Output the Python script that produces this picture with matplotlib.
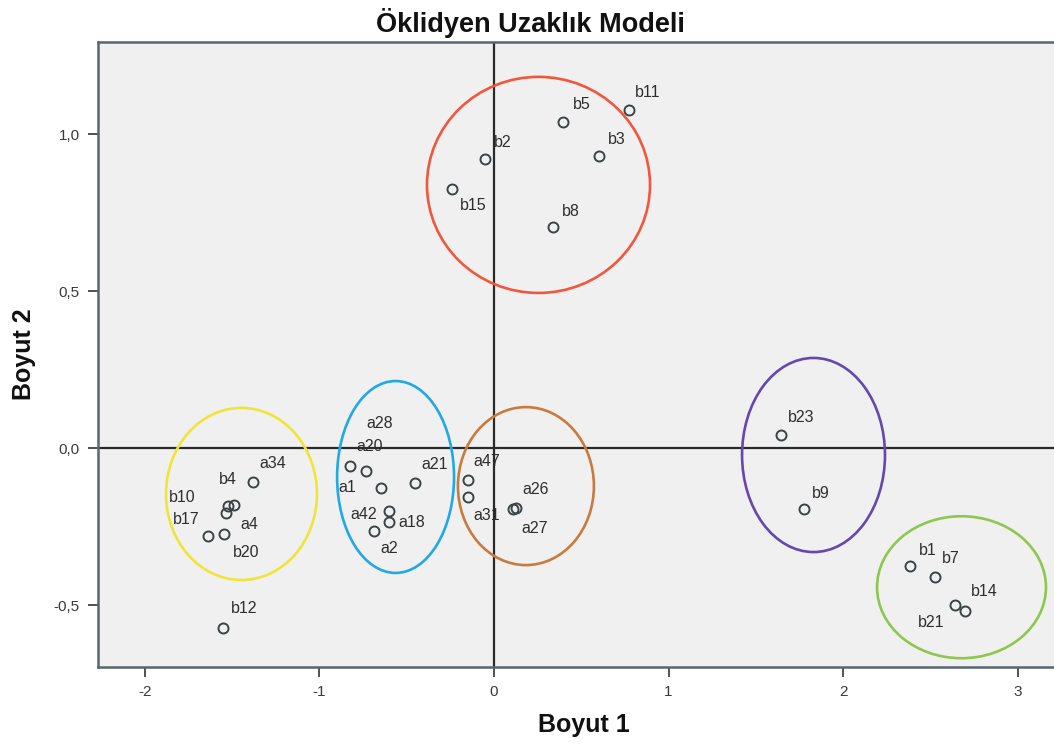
import matplotlib
matplotlib.use('Agg')
import matplotlib.pyplot as plt
from matplotlib.patches import Ellipse
from matplotlib.ticker import FuncFormatter

plt.rcParams['font.family'] = ['Liberation Sans', 'DejaVu Sans']
plt.rcParams['axes.unicode_minus'] = False

# MDS coordinates (Boyut 1, Boyut 2)
labels = ['b11', 'b5', 'b3', 'b2', 'b15', 'b8',
          'a34', 'b4', 'b10', 'a4', 'b17', 'b20', 'b12',
          'a20', 'a28', 'a1', 'a21', 'a42', 'a18', 'a2',
          'a47', 'a31', 'a27', 'a26',
          'b23', 'b9',
          'b1', 'b7', 'b21', 'b14']
dim1 = [0.774, 0.395, 0.602, -0.052, -0.241, 0.338,
        -1.381, -1.490, -1.524, -1.536, -1.639, -1.547, -1.553,
        -0.825, -0.734, -0.648, -0.453, -0.602, -0.602, -0.688,
        -0.149, -0.149, 0.109, 0.126,
        1.645, 1.777,
        2.384, 2.527, 2.642, 2.699]
dim2 = [1.076, 1.038, 0.930, 0.920, 0.825, 0.704,
        -0.108, -0.182, -0.185, -0.207, -0.280, -0.274, -0.573,
        -0.057, -0.073, -0.127, -0.111, -0.201, -0.236, -0.264,
        -0.102, -0.156, -0.194, -0.191,
        0.041, -0.194,
        -0.376, -0.411, -0.500, -0.519]

# cluster ellipses drawn by hand on the original: centre x, centre y, width, height
groups = ['red', 'yellow', 'blue', 'orange', 'purple', 'green']
grp_cx = [0.255, -1.447, -0.564, 0.183, 1.831, 2.679]
grp_cy = [0.838, -0.146, -0.092, -0.121, -0.022, -0.443]
grp_w = [1.278, 0.865, 0.670, 0.779, 0.819, 0.968]
grp_h = [0.688, 0.548, 0.611, 0.503, 0.618, 0.452]

grp_colors = {'red': '#f0573c', 'yellow': '#efe53a', 'blue': '#22a8e4',
              'orange': '#c97b3e', 'purple': '#6448b0', 'green': '#8cc84e'}

# label offsets in pixels (dx right, dy down), from the picture
lab_off = {
    'b11': (19, -18), 'b5': (19, -18), 'b3': (18, -17), 'b2': (18, -17),
    'b15': (21, 17), 'b8': (18, -15),
    'a34': (20, -19), 'b4': (-6, -26), 'b10': (-46, -9), 'a4': (23, 11),
    'b17': (-22, -17), 'b20': (22, 18), 'b12': (21, -20),
    'a20': (20, -19), 'a28': (14, -48), 'a1': (-34, 0), 'a21': (20, -18),
    'a42': (-25, 3), 'a18': (23, 0), 'a2': (15, 17),
    'a47': (19, -19), 'a31': (19, 18), 'a27': (22, 19), 'a26': (20, -19),
    'b23': (20, -18), 'b9': (17, -16),
    'b1': (18, -16), 'b7': (16, -19), 'b21': (-24, 17), 'b14': (19, -20),
}

fig = plt.figure(figsize=(10.54, 7.46), dpi=100)
ax = fig.add_axes([0.093, 0.1059, 0.907, 0.8378])
ax.set_facecolor('#f0f0f0')

ax.set_xlim(-2.269, 3.209)
ax.set_ylim(-0.697, 1.293)

# crosshair at origin
ax.axhline(0, color='#2a2a2a', linewidth=1.6, zorder=1)
ax.axvline(0, color='#2a2a2a', linewidth=1.6, zorder=1)

for g, cx, cy, w, h in zip(groups, grp_cx, grp_cy, grp_w, grp_h):
    ax.add_patch(Ellipse((cx, cy), w, h, fill=False,
                         edgecolor=grp_colors[g], linewidth=1.9, zorder=2))

ax.plot(dim1, dim2, linestyle='none', marker='o', markersize=7.2,
        markerfacecolor='none', markeredgecolor='#3a4446',
        markeredgewidth=1.4, zorder=3)

for name, x, y in zip(labels, dim1, dim2):
    dx, dy = lab_off[name]
    ax.annotate(name, (x, y), xytext=(dx * 0.72, -dy * 0.72),
                textcoords='offset points', ha='center', va='center',
                fontsize=11.5, color='#2e2e2e', zorder=4)

ax.set_xticks([-2, -1, 0, 1, 2, 3])
ax.set_yticks([-0.5, 0.0, 0.5, 1.0])
ax.yaxis.set_major_formatter(FuncFormatter(lambda v, p: ('%.1f' % v).replace('.', ',')))
ax.tick_params(direction='out', length=7, width=1.2, color='#333333',
               labelsize=11, labelcolor='#3a3a3a', pad=6)

for s in ['left', 'bottom', 'top']:
    ax.spines[s].set_color('#56676f')
    ax.spines[s].set_linewidth(1.8)
ax.spines['right'].set_visible(False)

fig.text(0.503, 0.957, 'Öklidyen Uzaklık Modeli', ha='center', va='baseline',
         fontsize=19.5, fontweight='bold', color='#111111')
fig.text(0.5536, 0.012, 'Boyut 1', ha='center', va='bottom',
         fontsize=18, fontweight='bold', color='#111111')
fig.text(0.023, 0.5249, 'Boyut 2', ha='center', va='center', rotation=90,
         fontsize=18, fontweight='bold', color='#111111')

plt.savefig('out.png', dpi=100)
